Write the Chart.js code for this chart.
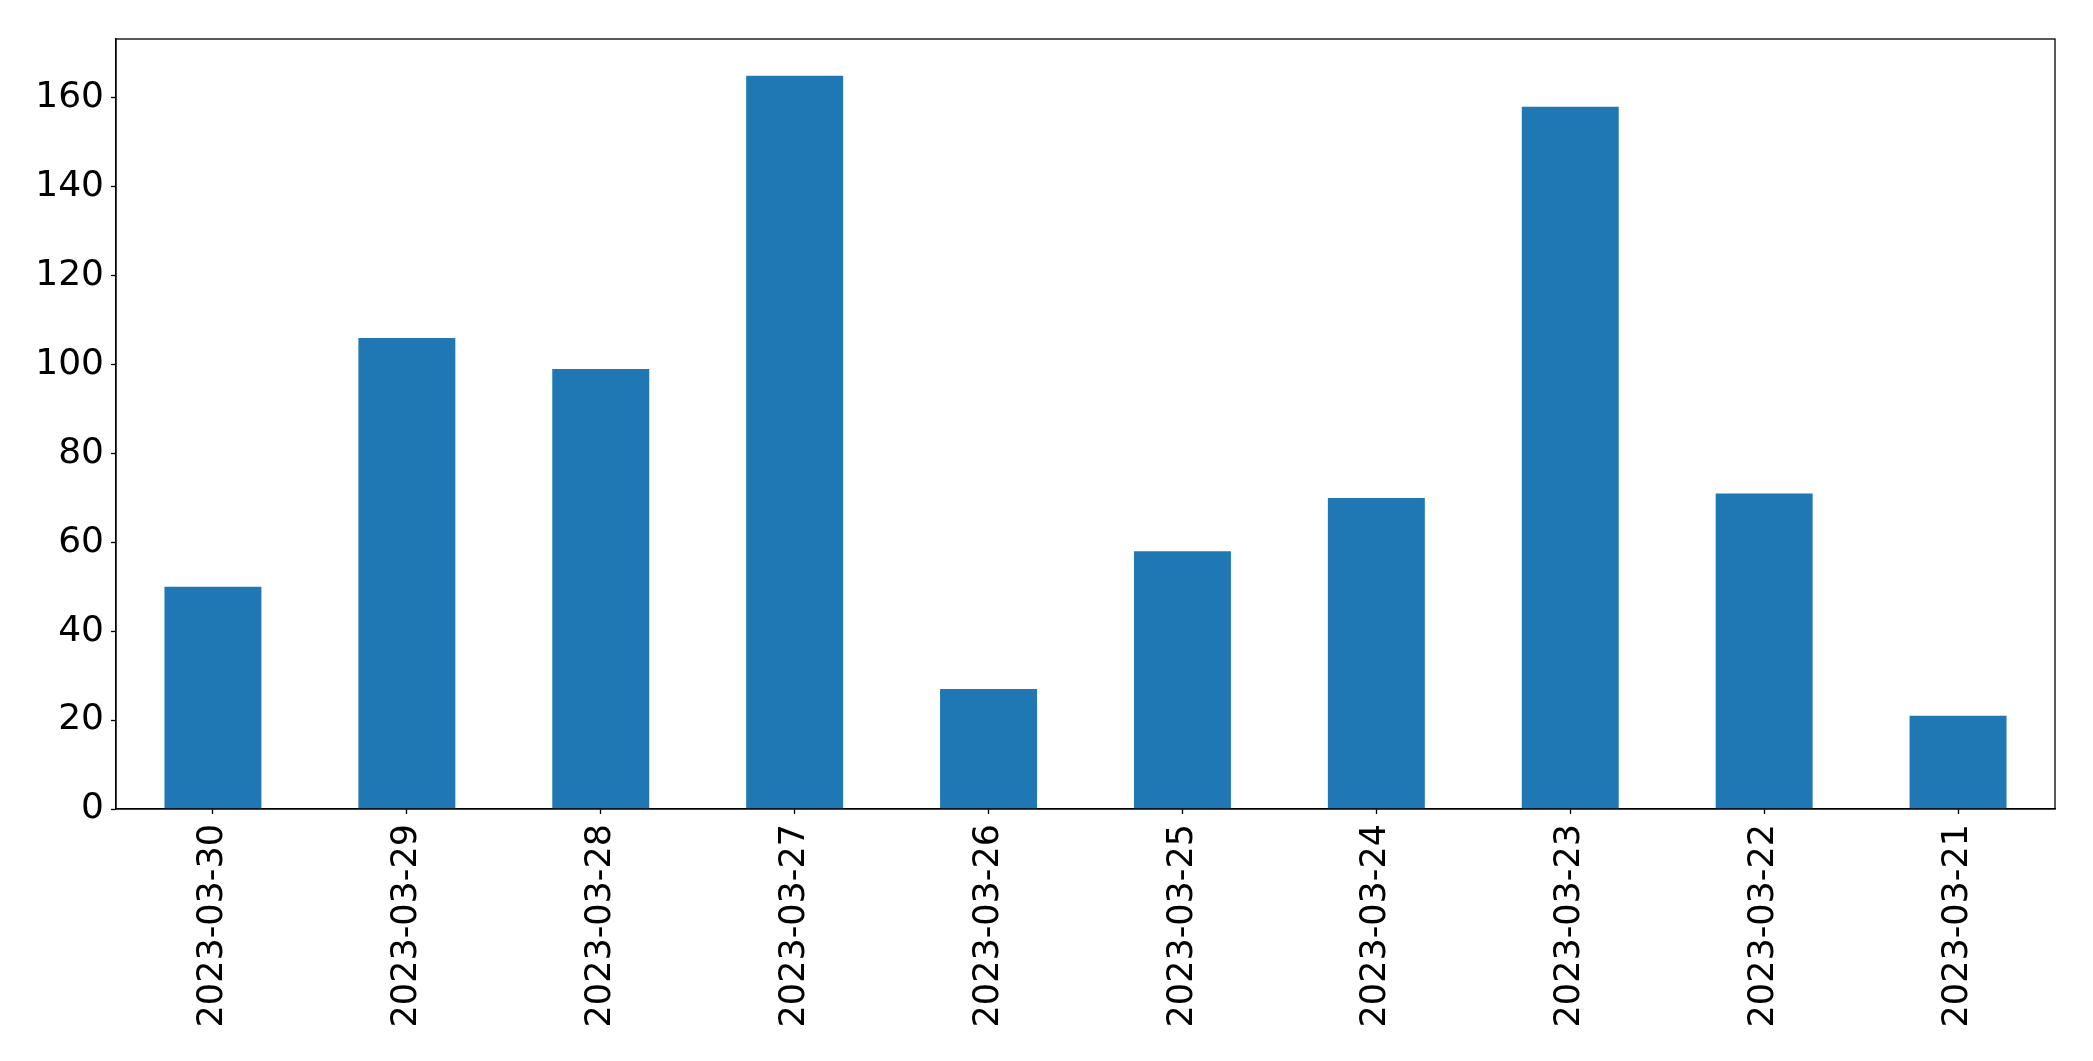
<!DOCTYPE html>
<html>
<head>
<meta charset="utf-8">
<script src="https://cdn.jsdelivr.net/npm/chart.js@4/dist/chart.umd.min.js"></script>
<style>
html,body{margin:0;padding:0;background:#fff;}
#wrap{width:2093px;height:1061px;position:relative;}
</style>
</head>
<body>
<div id="wrap"><canvas id="c" width="2093" height="1061"></canvas></div>
<script>
const categories = ["2023-03-30","2023-03-29","2023-03-28","2023-03-27","2023-03-26","2023-03-25","2023-03-24","2023-03-23","2023-03-22","2023-03-21"];
const values = [50, 106, 99, 165, 27, 58, 70, 158, 71, 21];
const yTicks = [0, 20, 40, 60, 80, 100, 120, 140, 160];
const yMax = 173.25;

const frame = {
  id: 'frame',
  afterDraw(chart) {
    const a = chart.chartArea, ctx = chart.ctx;
    ctx.save();
    ctx.strokeStyle = '#000';
    ctx.lineWidth = 1.3;
    ctx.strokeRect(a.left, a.top, a.right - a.left, a.bottom - a.top);
    ctx.restore();
  }
};

new Chart(document.getElementById('c'), {
  type: 'bar',
  data: {
    labels: categories,
    datasets: [{
      data: values,
      backgroundColor: '#1f77b4',
      borderWidth: 0,
      barPercentage: 0.5,
      categoryPercentage: 1.0
    }]
  },
  options: {
    responsive: false,
    animation: false,
    devicePixelRatio: 1,
    layout: { padding: { left: 0, top: 39, right: 38, bottom: 0 } },
    plugins: { legend: { display: false }, tooltip: { enabled: false } },
    scales: {
      x: {
        offset: true,
        grid: { offset: false, drawOnChartArea: false, tickLength: 5, color: '#000', tickWidth: 1.3 },
        border: { display: true, color: '#000', width: 1.3 },
        ticks: {
          color: '#000', font: { family: 'DejaVu Sans', size: 35 },
          maxRotation: 90, minRotation: 90, padding: 10, autoSkip: false
        },
        afterFit(s) { s.height = 252; }
      },
      y: {
        min: 0, max: yMax,
        afterBuildTicks(s) { s.ticks = yTicks.map(v => ({ value: v })); },
        grid: { drawOnChartArea: false, tickLength: 5, color: '#000', tickWidth: 1.3 },
        border: { display: true, color: '#000', width: 1.3 },
        ticks: { color: '#000', font: { family: 'DejaVu Sans', size: 36 }, padding: 7 },
        afterFit(s) { s.width = 116; }
      }
    }
  },
  plugins: [frame]
});
</script>
</body>
</html>
